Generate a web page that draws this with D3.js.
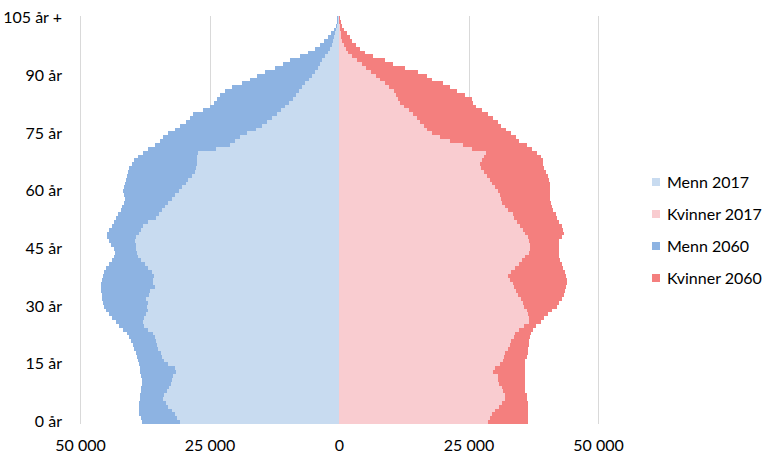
<!DOCTYPE html>
<html><head><meta charset="utf-8">
<script src="https://cdn.jsdelivr.net/npm/d3@7"></script>
<style>
html,body{margin:0;padding:0;background:#fff;}
svg text{font-family:Lato,"Open Sans",sans-serif;fill:#000;}
</style></head><body>
<svg id="chart" width="774" height="459"></svg>
<script>
// ages 0..105 (105 = "105 år +")
const ages = d3.range(0, 106);
const yTickAges = [0, 15, 30, 45, 60, 75, 90, 105];
const yTickLabels = ["0 år", "15 år", "30 år", "45 år", "60 år", "75 år", "90 år", "105 år +"];
const xTickValues = [-50000, -25000, 0, 25000, 50000];
const xTickLabels = ["50 000", "25 000", "0", "25 000", "50 000"];
const seriesNames = ["Menn 2017", "Kvinner 2017", "Menn 2060", "Kvinner 2060"];

const menn2017 = [30700,31300,31700,32200,33000,33400,34000,33800,33200,32800,
32400,32200,32000,31500,31700,33000,33800,34200,34400,35000,
35100,35300,35500,35900,36900,37600,37800,37600,37300,36900,
37100,36900,37300,36700,36500,35500,35900,35900,35700,36100,
36900,37400,38200,38800,39000,39200,39200,39400,39200,38600,
38200,37800,36900,35300,34700,34200,33600,33000,32200,31700,
30900,30300,29500,29100,28400,27800,27600,27400,27400,27400,
27200,23700,21000,20100,19100,17800,16000,14900,13900,12900,
12000,11200,10400,9700,8900,8300,7700,7100,6600,5800,
5200,4600,4000,3700,3300,2700,2100,1700,1300,1100,
900,700,500,350,200,200];

const kvinner2017 = [28800,29200,29600,30200,30900,31500,32100,32100,31700,31500,
30900,30600,30600,29800,30200,31100,31700,31900,32100,32700,
33100,33300,33700,34000,34800,35800,36600,36600,36400,36200,
35800,35600,35200,34600,34200,33700,33500,33100,32700,33300,
34000,34800,35400,36000,36700,36900,36900,36600,36400,36000,
35600,35000,34400,33800,33500,32700,32100,31500,31300,31100,
30600,30200,29600,29200,28600,28000,27500,27300,27700,28000,
28400,25700,24000,21500,19500,18000,17000,16400,15700,15100,
14300,13500,12600,11800,11400,11000,10600,9700,8900,7900,
7200,6200,5200,4400,3500,2500,1700,1400,1000,600,
400,300,200,130,90,90];

const menn2060 = [38000,38200,38600,38600,38600,38600,38400,38400,38200,38200,
38000,38000,38200,38400,38400,38600,38800,39000,39200,39600,
39800,40100,40500,40900,41700,42500,43000,43800,44400,45000,
45400,45600,45700,45700,45900,45900,45900,45700,45600,45400,
45000,44400,43800,43400,43200,43400,44000,44400,44800,44800,
44400,43800,43400,43000,42700,42100,41800,41500,41300,41500,
41700,41500,41300,41100,40900,40700,40500,40000,39600,38800,
37800,36900,35500,34500,34000,33000,31700,30700,29500,28800,
28200,26200,24900,24100,23500,23000,22000,20700,18700,17200,
15800,14300,12400,10800,9500,7500,6000,4600,3700,2900,
2100,1500,1000,600,400,300];

const kvinner2060 = [36400,36400,36400,36400,36400,36400,36200,36200,36000,36000,
36000,36000,36000,36000,36000,36000,36000,36200,36400,36400,
36600,36700,36900,37100,37500,38100,38900,39500,40400,41200,
42000,42500,43100,43500,43700,43900,44100,44100,43900,43700,
43300,43000,42700,42500,42400,42400,42400,42500,43000,43500,
43300,43000,42400,42000,41800,41400,41200,41000,40800,40800,
40800,40800,40800,40600,40400,40000,39500,39300,39300,38900,
38300,37300,36200,34800,34200,33300,32300,31300,30600,29800,
28800,27700,26500,25900,25700,24400,22800,21500,20100,18000,
17000,15300,12800,10400,8900,6600,5000,4100,3300,2500,
2100,1500,1000,600,300,200];

const colors = {
  "Menn 2017": "#C8DBF0",
  "Kvinner 2017": "#F9CCD0",
  "Menn 2060": "#8DB3E2",
  "Kvinner 2060": "#F47F7E"
};

const svg = d3.select("#chart");
const x = d3.scaleLinear().domain([-50000, 50000]).range([80, 598]);
const y = d3.scaleBand().domain(ages.slice().reverse()).range([16, 424]).padding(0);

// gridlines
svg.append("g").selectAll("line").data(xTickValues.filter(v => v !== 0)).join("line")
  .attr("x1", d => Math.round(x(d)) + 0.5).attr("x2", d => Math.round(x(d)) + 0.5)
  .attr("y1", 16).attr("y2", 424)
  .attr("stroke", "#D9D9D9").attr("stroke-width", 1);

function drawSeries(values, name, sign) {
  svg.append("g").attr("shape-rendering", "crispEdges").selectAll("rect").data(ages).join("rect")
    .attr("x", a => sign < 0 ? x(-values[a]) : x(0))
    .attr("width", a => Math.abs(x(values[a]) - x(0)))
    .attr("y", a => Math.round(y(a)))
    .attr("height", a => Math.round(y(a) + y.bandwidth()) - Math.round(y(a)))
    .attr("fill", colors[name]);
}
drawSeries(menn2060, "Menn 2060", -1);
drawSeries(kvinner2060, "Kvinner 2060", 1);
drawSeries(menn2017, "Menn 2017", -1);
drawSeries(kvinner2017, "Kvinner 2017", 1);

// y axis labels
const yAxis = d3.axisLeft(y).tickValues(yTickAges)
  .tickFormat(a => yTickLabels[yTickAges.indexOf(a)]).tickSize(0).tickPadding(0);
const gy = svg.append("g").attr("transform", "translate(62,0)").call(yAxis);
gy.select(".domain").remove();
gy.selectAll("text").style("font-size", "16px").style("font-family", "Lato, 'Open Sans', sans-serif").attr("fill", "#000");

// x axis labels
const xAxis = d3.axisBottom(x).tickValues(xTickValues)
  .tickFormat(v => xTickLabels[xTickValues.indexOf(v)]).tickSize(0).tickPadding(0);
const gx = svg.append("g").attr("transform", "translate(0,440)").call(xAxis);
gx.select(".domain").remove();
gx.selectAll("text").style("font-size", "16px").style("font-family", "Lato, 'Open Sans', sans-serif").attr("fill", "#000");

// legend
const legendY = d3.scalePoint().domain(seriesNames).range([182, 278]);
const lg = svg.append("g").selectAll("g").data(seriesNames).join("g")
  .attr("transform", d => `translate(652,${legendY(d)})`);
lg.append("rect").attr("x", 0).attr("y", -4).attr("width", 8).attr("height", 8)
  .attr("fill", d => colors[d]);
lg.append("text").attr("x", 15).attr("y", 0).attr("dy", "0.35em")
  .style("font-size", "16px").text(d => d);
</script>
</body></html>
